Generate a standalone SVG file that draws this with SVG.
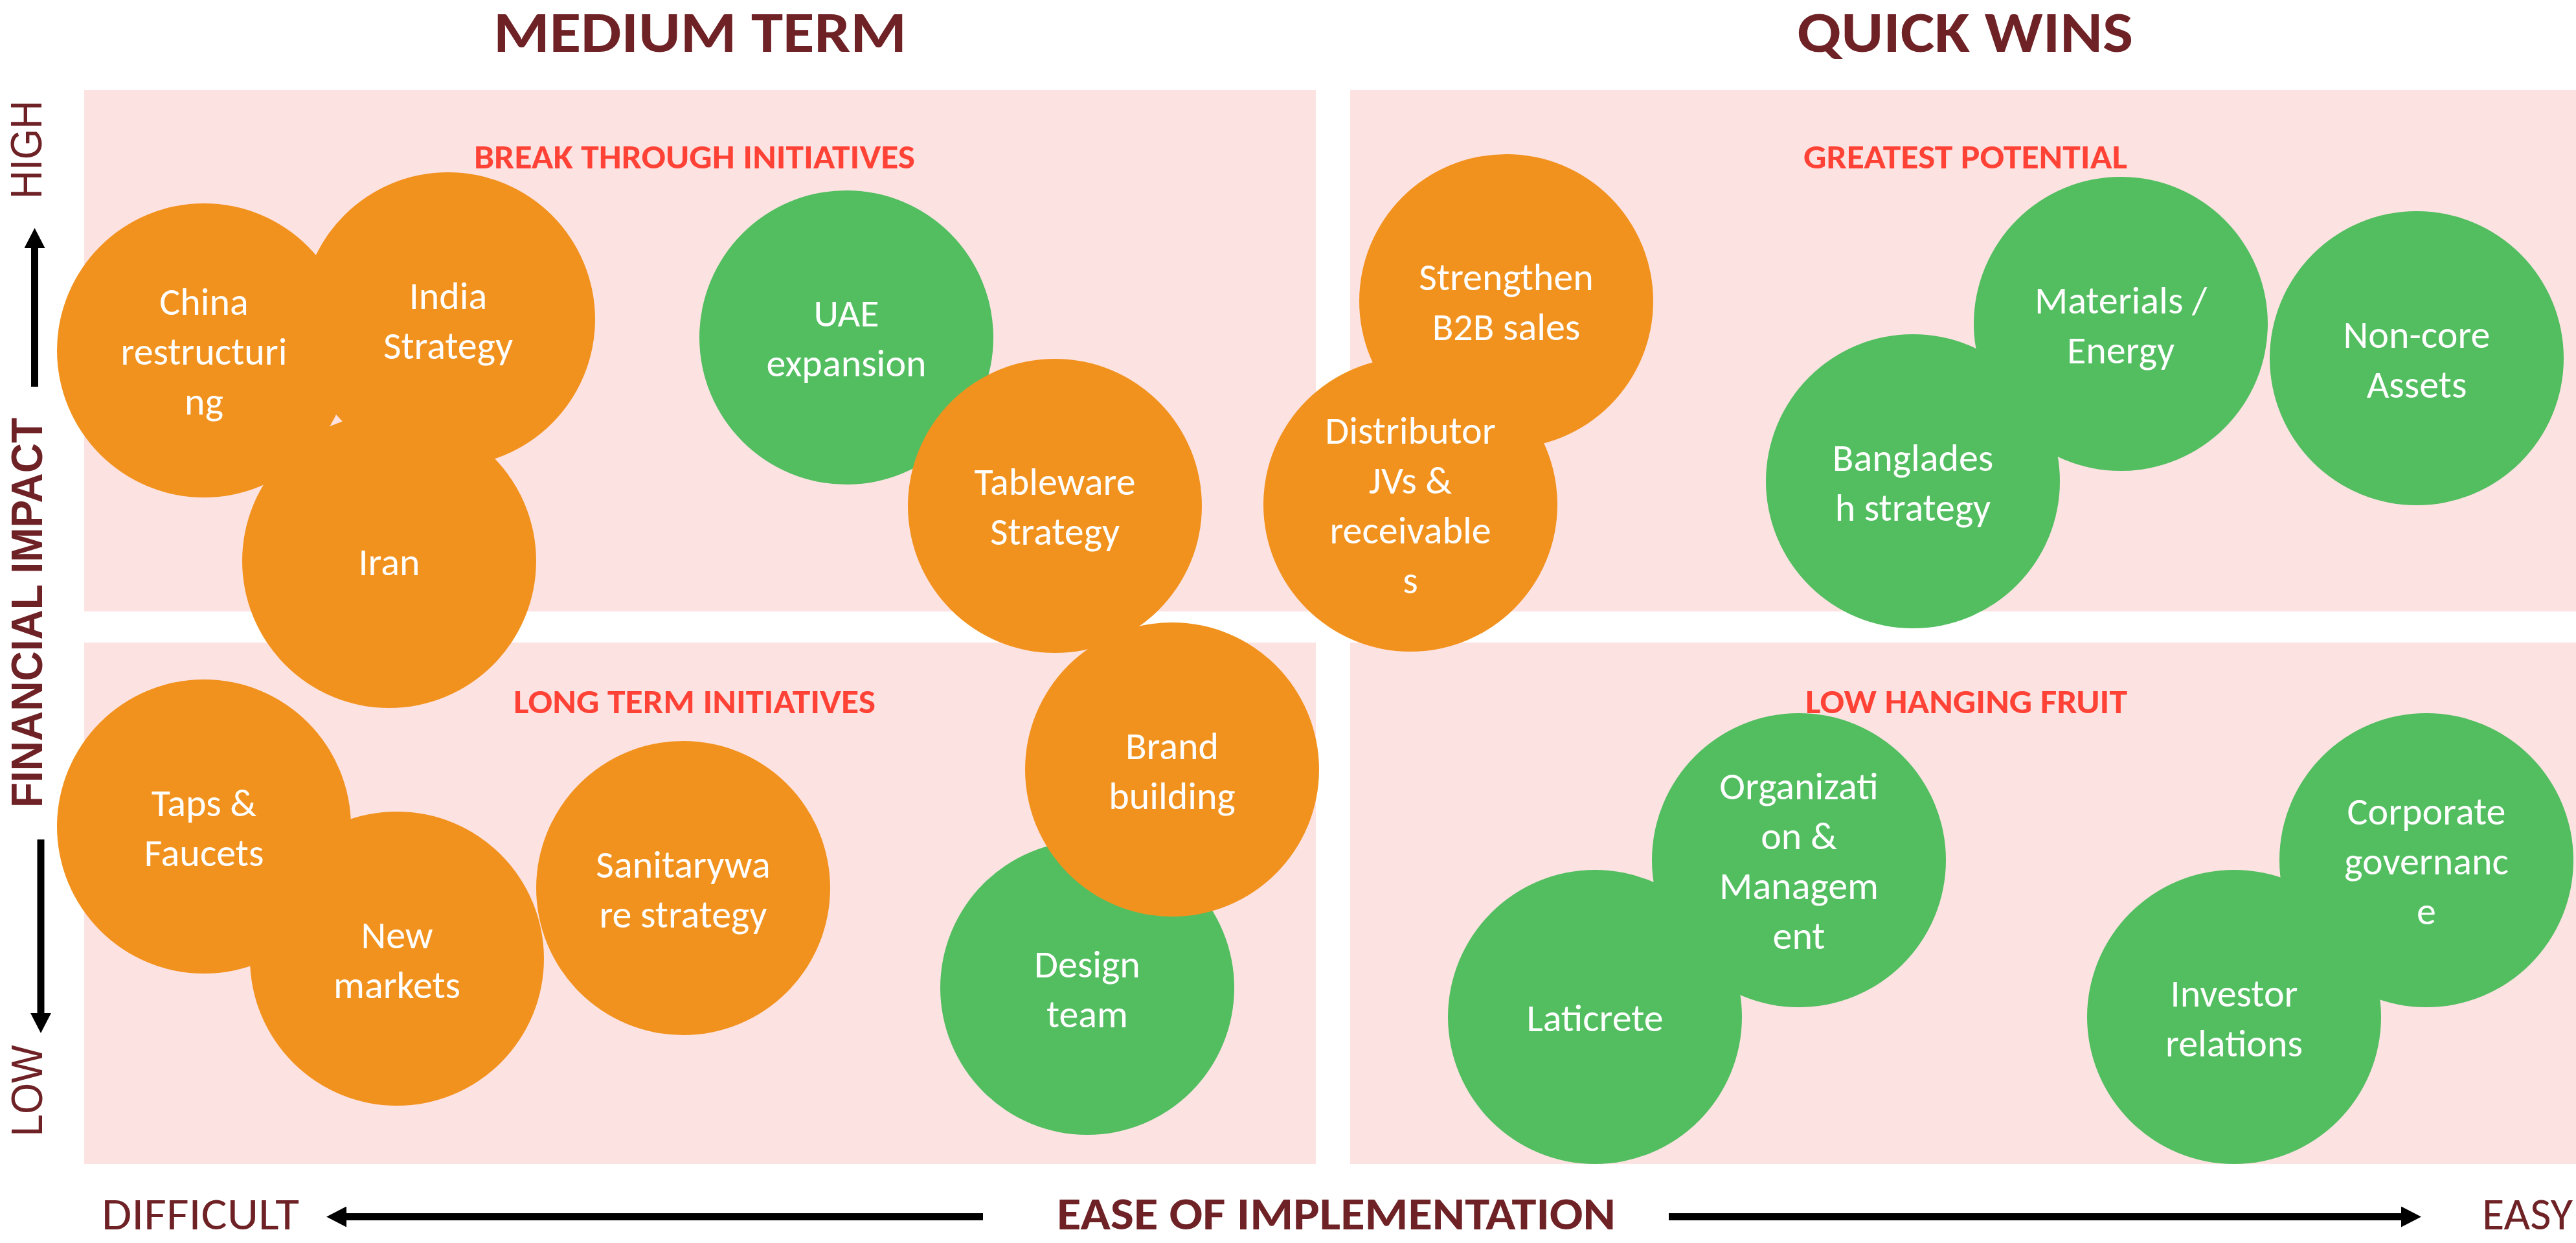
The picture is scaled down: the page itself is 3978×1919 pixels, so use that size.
<svg xmlns="http://www.w3.org/2000/svg" width="3978" height="1919" viewBox="0 0 3978 1919">
<style>
.bg{fill:#FFFFFF}
.quad{fill:#FDE2E2}
.org{fill:#F2921E}
.grn{fill:#52BE60}
.ct{font-family:Carlito,Calibri,Lato,sans-serif;font-size:60px;fill:#FFFFFF;text-anchor:middle}
.title{font-family:Carlito,Calibri,Lato,sans-serif;font-size:90px;font-weight:bold;fill:#6F2226}
.ql{font-family:Carlito,Calibri,Lato,sans-serif;font-size:52px;font-weight:bold;fill:#FF4236}
.ax{font-family:Carlito,Calibri,Lato,sans-serif;font-size:70px;fill:#6F2226}
.axb{font-weight:bold}
.yl{font-family:"Liberation Sans",Arial,sans-serif;font-size:68px;fill:#6F2226;text-anchor:middle}
.arr{stroke:#000000;stroke-width:11;fill:none;marker-end:url(#ah)}
</style>
<defs>
<marker id="ah" markerUnits="userSpaceOnUse" viewBox="0 0 31 32" markerWidth="31" markerHeight="32" refX="0" refY="16" orient="auto">
<path d="M0,0 L31,16 L0,32 Z" fill="#000000"/>
</marker>
</defs>
<rect class="bg" x="0" y="0" width="3978" height="1919"/>
<g id="quadrants">
<rect class="quad" x="130" y="139" width="1902" height="805"/>
<rect class="quad" x="2085" y="139" width="1893" height="805"/>
<rect class="quad" x="130" y="992" width="1902" height="805"/>
<rect class="quad" x="2085" y="992" width="1893" height="805"/>
</g>
<g id="labels">
<text class="title" x="762" y="80" textLength="638" lengthAdjust="spacingAndGlyphs">MEDIUM TERM</text>
<text class="title" x="2775" y="80" textLength="519" lengthAdjust="spacingAndGlyphs">QUICK WINS</text>
<text class="ql" x="732" y="260" textLength="681" lengthAdjust="spacingAndGlyphs">BREAK THROUGH INITIATIVES</text>
<text class="ql" x="2785" y="260" textLength="500" lengthAdjust="spacingAndGlyphs">GREATEST POTENTIAL</text>
<text class="ql" x="793" y="1101" textLength="559" lengthAdjust="spacingAndGlyphs">LONG TERM INITIATIVES</text>
<text class="ql" x="2788" y="1101" textLength="497" lengthAdjust="spacingAndGlyphs">LOW HANGING FRUIT</text>
<text class="yl" transform="translate(64,231) rotate(-90)" textLength="152" lengthAdjust="spacingAndGlyphs">HIGH</text>
<text class="yl" transform="translate(65,946) rotate(-90)" font-weight="bold" textLength="602" lengthAdjust="spacingAndGlyphs">FINANCIAL IMPACT</text>
<text class="yl" transform="translate(65,1684) rotate(-90)" textLength="141" lengthAdjust="spacingAndGlyphs">LOW</text>
<text class="ax" x="157" y="1898" textLength="305" lengthAdjust="spacingAndGlyphs">DIFFICULT</text>
<text class="ax axb" x="1632" y="1898" textLength="863" lengthAdjust="spacingAndGlyphs">EASE OF IMPLEMENTATION</text>
<text class="ax" x="3833" y="1898" textLength="140" lengthAdjust="spacingAndGlyphs">EASY</text>
</g>
<g id="connectors">
<line class="arr" x1="53.5" y1="597" x2="53.5" y2="383"/>
<line class="arr" x1="63" y1="1296" x2="63" y2="1564"/>
<line class="arr" x1="1518" y1="1878.5" x2="535" y2="1878.5"/>
<line class="arr" x1="2577" y1="1878.5" x2="3708" y2="1878.5"/>
</g>
<g id="china"><circle class="org" cx="315" cy="541" r="227"/><text class="ct"><tspan x="315" y="485.5">China</tspan><tspan x="315" y="562.5">restructuri</tspan><tspan x="315" y="639.5">ng</tspan></text></g>
<g id="india"><circle class="org" cx="692" cy="493" r="227"/><text class="ct"><tspan x="692" y="476.5">India</tspan><tspan x="692" y="553.5">Strategy</tspan></text></g>
<g id="iran"><circle class="org" cx="601" cy="866" r="227"/><text class="ct" x="601" y="887.5">Iran</text></g>
<g id="uae"><circle class="grn" cx="1307" cy="521" r="227"/><text class="ct"><tspan x="1307" y="504">UAE</tspan><tspan x="1307" y="581">expansion</tspan></text></g>
<g id="tableware"><circle class="org" cx="1629" cy="781" r="227"/><text class="ct"><tspan x="1629" y="764">Tableware</tspan><tspan x="1629" y="841">Strategy</tspan></text></g>
<g id="strengthen"><circle class="org" cx="2326" cy="465" r="227"/><text class="ct"><tspan x="2326" y="448">Strengthen</tspan><tspan x="2326" y="525">B2B sales</tspan></text></g>
<g id="distributor"><circle class="org" cx="2178" cy="779" r="227"/><text class="ct"><tspan x="2178" y="685">Distributor</tspan><tspan x="2178" y="762">JVs &amp;</tspan><tspan x="2178" y="839">receivable</tspan><tspan x="2178" y="916">s</tspan></text></g>
<g id="materials"><circle class="grn" cx="3275" cy="500" r="227"/><text class="ct"><tspan x="3275" y="483.5">Materials /</tspan><tspan x="3275" y="560.5">Energy</tspan></text></g>
<g id="noncore"><circle class="grn" cx="3732" cy="553" r="227"/><text class="ct"><tspan x="3732" y="536.5">Non-core</tspan><tspan x="3732" y="613.5">Assets</tspan></text></g>
<g id="bangladesh"><circle class="grn" cx="2954" cy="743" r="227"/><text class="ct"><tspan x="2954" y="726.5">Banglades</tspan><tspan x="2954" y="803.5">h strategy</tspan></text></g>
<g id="taps"><circle class="org" cx="315" cy="1276" r="227"/><text class="ct"><tspan x="315" y="1259.5">Taps &amp;</tspan><tspan x="315" y="1336.5">Faucets</tspan></text></g>
<g id="newmarkets"><circle class="org" cx="613" cy="1480" r="227"/><text class="ct"><tspan x="613" y="1463.5">New</tspan><tspan x="613" y="1540.5">markets</tspan></text></g>
<g id="sanitaryware"><circle class="org" cx="1055" cy="1371" r="227"/><text class="ct"><tspan x="1055" y="1354.5">Sanitarywa</tspan><tspan x="1055" y="1431.5">re strategy</tspan></text></g>
<g id="design"><circle class="grn" cx="1679" cy="1525" r="227"/><text class="ct"><tspan x="1679" y="1508.5">Design</tspan><tspan x="1679" y="1585.5">team</tspan></text></g>
<g id="brand"><circle class="org" cx="1810" cy="1188" r="227"/><text class="ct"><tspan x="1810" y="1171.5">Brand</tspan><tspan x="1810" y="1248.5">building</tspan></text></g>
<g id="organization"><circle class="grn" cx="2778" cy="1328" r="227"/><text class="ct"><tspan x="2778" y="1234">Organizati</tspan><tspan x="2778" y="1311">on &amp;</tspan><tspan x="2778" y="1388">Managem</tspan><tspan x="2778" y="1465">ent</tspan></text></g>
<g id="laticrete"><circle class="grn" cx="2463" cy="1570" r="227"/><text class="ct" x="2463" y="1591.5">Laticrete</text></g>
<g id="corporate"><circle class="grn" cx="3747" cy="1328" r="227"/><text class="ct"><tspan x="3747" y="1272.5">Corporate</tspan><tspan x="3747" y="1349.5">governanc</tspan><tspan x="3747" y="1426.5">e</tspan></text></g>
<g id="investor"><circle class="grn" cx="3450" cy="1570" r="227"/><text class="ct"><tspan x="3450" y="1553.5">Investor</tspan><tspan x="3450" y="1630.5">relations</tspan></text></g>
</svg>
